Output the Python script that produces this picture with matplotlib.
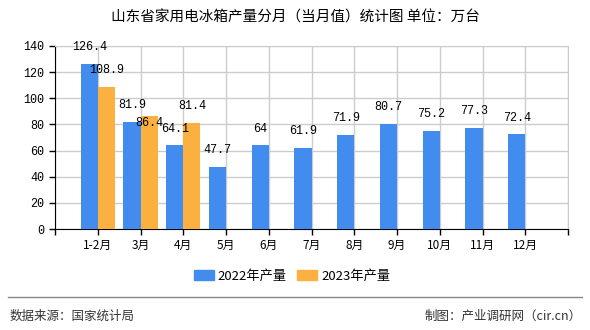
import numpy as np
import matplotlib.pyplot as plt
from matplotlib.patches import Patch
from matplotlib.lines import Line2D

plt.rcParams['font.family'] = ['Noto Sans CJK SC', 'DejaVu Sans']

months = ['1-2月', '3月', '4月', '5月', '6月', '7月', '8月', '9月', '10月', '11月', '12月']
prod_2022 = [126.4, 81.9, 64.1, 47.7, 64, 61.9, 71.9, 80.7, 75.2, 77.3, 72.4]
prod_2023 = [108.9, 86.4, 81.4]
series_names = ['2022年产量', '2023年产量']
c22 = '#428BEF'
c23 = '#FBB03F'

fig = plt.figure(figsize=(5.9, 3.3), dpi=100)
ax = fig.add_axes([55/590, 1 - 229/330, 513/590, 183/330])

x = np.arange(1, len(months) + 1)
w = 0.4
ax.bar(x - w/2, prod_2022, w, color=c22, zorder=3)
ax.bar(x[:len(prod_2023)] + w/2, prod_2023, w, color=c23, zorder=3)

num_font = 'Liberation Mono'
for xi, v in zip(x, prod_2022):
    ax.annotate(f'{v:g}', (xi - w/2, v), xytext=(0, 12), textcoords='offset points',
                ha='center', va='center', fontsize=8.5, family=num_font, zorder=4)
for i, (xi, v) in enumerate(zip(x, prod_2023)):
    dy = 12
    if i == 1:
        dy = -5  # pushed down so it does not collide with 81.9
    ax.annotate(f'{v:g}', (xi + w/2, v), xytext=(0, dy), textcoords='offset points',
                ha='center', va='center', fontsize=8.5, family=num_font, zorder=4)

ax.set_xlim(0, len(months) + 1)
ax.set_ylim(0, 140)
ax.set_yticks(range(0, 141, 20))
ax.set_xticks(range(0, len(months) + 2))
ax.set_xticklabels([''] + months + [''], fontsize=8.5)
ax.tick_params(axis='y', labelsize=8.5, length=4, width=1, colors='black')
ax.tick_params(axis='x', length=4, width=1)
for lbl in ax.get_yticklabels():
    lbl.set_family(num_font)

ax.grid(True, color='#cccccc', linewidth=1, zorder=0)
ax.spines['top'].set_color('#cccccc')
ax.spines['right'].set_color('#cccccc')
ax.spines['left'].set_color('black')
ax.spines['bottom'].set_color('black')

fig.text(0.5, 1 - 18/330, '山东省家用电冰箱产量分月（当月值）统计图 单位：万台',
         ha='center', va='center', fontsize=10.5)

handles = [Patch(color=c22), Patch(color=c23)]
fig.legend(handles, series_names, loc='center', bbox_to_anchor=(292/590, 1 - 276/330),
           ncol=2, frameon=False, fontsize=9.5, handlelength=1.5, handleheight=0.8,
           columnspacing=0.8, handletextpad=0.3)

fig.add_artist(Line2D([8/590, 582/590], [1 - 297/330, 1 - 297/330], color='#888888', linewidth=1))
fig.text(10/590, 1 - 316/330, '数据来源：国家统计局', ha='left', va='center', fontsize=9, color='#333333')
fig.text(582/590, 1 - 316/330, '制图：产业调研网（cir.cn）', ha='right', va='center', fontsize=9, color='#333333')

fig.savefig('out.png', dpi=100)
